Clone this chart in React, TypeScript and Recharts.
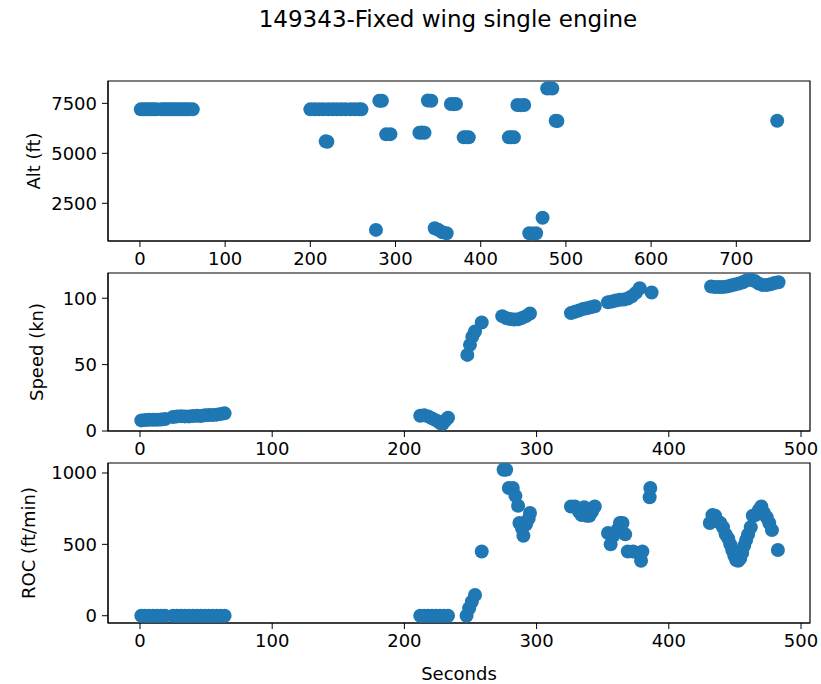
import { ScatterChart, Scatter, XAxis, YAxis, ReferenceArea } from "recharts";

// Altitude panel (seconds, feet)
const ALT_SEC = [
  1, 4, 7, 10, 13, 16, 19, 25, 28, 31, 34, 37, 40, 43, 46, 49, 52, 55, 58, 62,
  200, 205, 210, 215, 221, 226, 231, 236, 241, 247, 252, 257, 260,
  218, 220, 277, 281, 284, 289, 294, 328, 331, 334, 338, 342,
  346, 350, 355, 360, 365, 368, 371, 380, 383, 386,
  433, 436, 439, 443, 447, 451, 457, 461, 465, 472.6,
  478, 481, 484, 488, 490, 748,
];
const ALT_FT = [
  7200, 7200, 7200, 7200, 7200, 7200, 7200, 7200, 7200, 7200, 7200, 7200, 7200, 7200, 7200, 7200, 7200, 7200, 7200, 7200,
  7200, 7200, 7200, 7200, 7200, 7200, 7200, 7200, 7200, 7200, 7200, 7200, 7200,
  5600, 5580, 1170, 7630, 7630, 5950, 5960, 6030, 6040, 6030, 7640, 7630,
  1250, 1180, 1050, 1000, 7470, 7460, 7470, 5800, 5810, 5800,
  5800, 5810, 5800, 7420, 7410, 7420, 1000, 990, 1000, 1780,
  8240, 8250, 8240, 6630, 6620, 6630,
];

// Speed panel (seconds, knots)
const SPEED_SEC = [
  1, 4, 7, 10, 13, 16, 19, 25, 28, 31, 34, 37, 40, 43, 46, 49, 52, 55, 58, 61, 64,
  212, 215, 218, 221, 224, 227, 229, 231, 233,
  247.6, 249.6, 251.4, 253.4, 258.5,
  274, 277, 280, 283, 286, 289, 292, 295,
  326, 329, 332, 335, 338, 341, 344,
  354, 357, 360, 363, 366, 369, 372, 375, 378, 387,
  432, 435, 438, 441, 444, 447, 450, 453, 456, 459, 462, 465, 468, 471, 474, 477, 480, 483,
];
const SPEED_KN = [
  8, 8.3, 8.5, 8.5, 8.4, 8.6, 9, 10.5, 11, 11.2, 11, 11, 11.3, 11.5, 11.3, 11.8, 12, 12, 12.3, 12.8, 13.3,
  11.5, 11.8, 11, 9.5, 8, 6, 5.5, 8, 10,
  57.3, 64.9, 71.1, 74.9, 81.7,
  86.5, 85, 84.3, 84, 84.2, 85.2, 86.5, 88.5,
  88.8, 89.8, 90.8, 91.8, 92.5, 93.2, 94,
  97, 97.5, 98.3, 98.8, 99, 99.8, 101.5, 104, 107.5, 104.3,
  108.8, 108.5, 108.5, 108.5, 108.8, 109.5, 110.3, 111, 112, 113.5, 114, 113, 111, 110, 110, 110.5, 111.5, 112,
];

// Rate of climb panel (seconds, ft/min)
const ROC_SEC = [
  1, 4, 7, 10, 13, 16, 19, 25, 28, 31, 34, 37, 40, 43, 46, 49, 52, 55, 58, 61, 64,
  212, 215, 218, 221, 224, 227, 230, 233,
  247, 249, 251, 253.4, 258.5,
  275, 277, 279, 282, 284, 286, 287, 289, 290, 292, 294, 295,
  326, 329, 332, 334, 336, 338, 340, 342, 344,
  354, 356, 358, 361, 363, 365, 367,
  369, 373, 377, 379, 380,
  385.5, 386,
  431, 433, 435, 437, 439, 441, 443, 445, 446.5, 448, 449.5, 451, 452.5, 454,
  455.5, 457, 458.5, 460, 462, 463.5, 465.5, 468, 470, 472, 474, 476, 478, 482.5,
];
const ROC_FPM = [
  0, 0, 0, 0, 0, 0, 0, 0, 0, 0, 0, 0, 0, 0, 0, 0, 0, 0, 0, 0, 0,
  0, 0, 0, 0, 0, 0, 0, 0,
  0, 52, 98, 145, 450,
  1023, 1023, 895, 895, 840, 770, 650, 610, 560, 640, 680, 720,
  765, 765, 730, 705, 760, 700, 700, 730, 765,
  580, 500, 560, 600, 650, 650, 570,
  450, 450, 440, 385, 450,
  830, 895,
  650, 705, 700, 660, 650, 620, 570, 540, 500, 460, 420, 390, 385, 400,
  440, 490, 530, 570, 620, 700, 705, 740, 765, 720, 690, 650, 600, 460,
];

const ALT_TICKS_X = [0, 100, 200, 300, 400, 500, 600, 700];
const SEC_TICKS_X = [0, 100, 200, 300, 400, 500];
const ALT_TICKS_Y = [2500, 5000, 7500];
const SPEED_TICKS_Y = [0, 50, 100];
const ROC_TICKS_Y = [0, 500, 1000];

const BLUE = "#1f77b4";
const FONT = "DejaVu Sans, sans-serif";
const TICK = { fill: "#000", fontSize: 18, fontFamily: FONT };

const toPoints = (xs: number[], ys: number[]) => xs.map((x, i) => ({ x, y: ys[i] }));

const Dot = (p: any) => <circle cx={p.cx} cy={p.cy} r={7} fill={BLUE} />;

interface PanelProps {
  top: number;
  plotHeight: number;
  axisHeight: number;
  data: { x: number; y: number }[];
  xDomain: [number, number];
  xTicks: number[];
  yDomain: [number, number];
  yTicks: number[];
  yLabel: string;
  yLabelX: number;
  xLabel?: string;
  xLabelY?: number;
}

function Panel(props: PanelProps) {
  const { top, plotHeight, axisHeight, data, xDomain, xTicks, yDomain, yTicks, yLabel, yLabelX, xLabel, xLabelY } = props;
  const padTop = 10;
  const height = padTop + plotHeight + axisHeight;
  return (
    <div style={{ position: "absolute", left: 0, top: top - padTop }}>
      <ScatterChart width={821} height={height} margin={{ top: padTop, right: 11, left: 0, bottom: 0 }}>
        <XAxis
          type="number"
          dataKey="x"
          domain={xDomain}
          ticks={xTicks}
          allowDataOverflow
          height={axisHeight}
          tick={TICK}
          tickSize={6}
          tickMargin={5}
          stroke="#000"
          label={
            xLabel
              ? {
                  content: () => (
                    <text x={459} y={xLabelY} textAnchor="middle" dominantBaseline="central" fontSize={18} fontFamily={FONT} fill="#000">
                      {xLabel}
                    </text>
                  ),
                }
              : undefined
          }
        />
        <YAxis
          type="number"
          dataKey="y"
          domain={yDomain}
          ticks={yTicks}
          allowDataOverflow
          width={108}
          tick={TICK}
          tickSize={6}
          tickMargin={5}
          stroke="#000"
          label={{
            content: () => {
              const cy = padTop + plotHeight / 2;
              return (
                <text
                  x={yLabelX}
                  y={cy}
                  transform={`rotate(-90, ${yLabelX}, ${cy})`}
                  textAnchor="middle"
                  dominantBaseline="central"
                  fontSize={18}
                  fontFamily={FONT}
                  fill="#000"
                >
                  {yLabel}
                </text>
              );
            },
          }}
        />
        <Scatter data={data} fill={BLUE} shape={Dot} isAnimationActive={false} />
        <ReferenceArea
          x1={xDomain[0]}
          x2={xDomain[1]}
          y1={yDomain[0]}
          y2={yDomain[1]}
          fill="none"
          fillOpacity={0}
          stroke="#000"
          strokeWidth={1.2}
          ifOverflow="visible"
        />
      </ScatterChart>
    </div>
  );
}

export default function App() {
  return (
    <div style={{ position: "absolute", left: 0, top: 0, width: 821, height: 684, background: "#fff", fontFamily: FONT }}>
      <div
        style={{
          position: "absolute",
          left: 0,
          width: 896,
          top: 6,
          textAlign: "center",
          fontSize: 23,
          color: "#000",
          whiteSpace: "nowrap",
        }}
      >
        149343-Fixed wing single engine
      </div>
      <Panel
        top={81}
        plotHeight={160}
        axisHeight={40}
        data={toPoints(ALT_SEC, ALT_FT)}
        xDomain={[-37.5, 786.5]}
        xTicks={ALT_TICKS_X}
        yDomain={[615, 8617]}
        yTicks={ALT_TICKS_Y}
        yLabel="Alt (ft)"
        yLabelX={33}
      />
      <Panel
        top={273}
        plotHeight={158}
        axisHeight={40}
        data={toPoints(SPEED_SEC, SPEED_KN)}
        xDomain={[-24.2, 506.8]}
        xTicks={SEC_TICKS_X}
        yDomain={[0, 119]}
        yTicks={SPEED_TICKS_Y}
        yLabel="Speed (kn)"
        yLabelX={36}
      />
      <Panel
        top={463}
        plotHeight={160}
        axisHeight={60}
        data={toPoints(ROC_SEC, ROC_FPM)}
        xDomain={[-24.2, 506.8]}
        xTicks={SEC_TICKS_X}
        yDomain={[-51, 1070]}
        yTicks={ROC_TICKS_Y}
        yLabel="ROC (ft/min)"
        yLabelX={28}
        xLabel="Seconds"
        xLabelY={220}
      />
    </div>
  );
}
